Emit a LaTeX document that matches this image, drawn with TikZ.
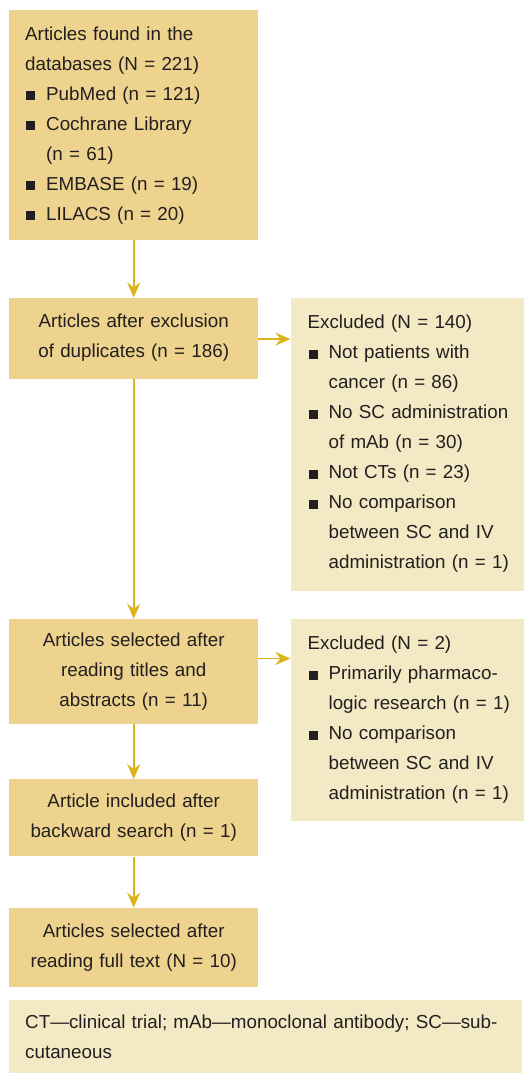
\documentclass[tikz,border=0pt]{standalone}
\usepackage{fontspec}
\setmainfont{Liberation Sans}
\usepackage{tikz}
\usetikzlibrary{positioning,arrows.meta,calc}
\definecolor{boxdark}{HTML}{EDD38D}
\definecolor{boxlight}{HTML}{F3E9C4}
\definecolor{arrowc}{HTML}{DDB31A}
\definecolor{inkc}{HTML}{231F20}
\newcommand{\sq}{\makebox[21pt][l]{\hspace{1pt}\rule{9pt}{9pt}}}
\newcommand{\hg}{\hspace*{21pt}}

\begin{document}
\begin{tikzpicture}[x=1pt,y=-1pt,
  font=\fontsize{18.8pt}{30pt}\selectfont, text=inkc,
  mainbox/.style={fill=boxdark,inner xsep=16pt,inner ysep=0pt,
              text width=217pt,align=center},
  exbox/.style={fill=boxlight,inner xsep=0pt,inner ysep=0pt,
              text width=233pt,align=left,anchor=north west,
              execute at begin node={\leftskip=17pt}},
  fl/.style={-{Stealth[length=15pt,width=13pt,inset=5pt]},arrowc,line width=1.7pt}]
\useasboundingbox (0,0) rectangle (523,1073);
\node[mainbox,align=left,minimum height=230pt,anchor=north west] (db) at (9,10)
  {Articles found in the\\databases (N = 221)\\
   \sq PubMed (n = 121)\\ \sq Cochrane Library\\ \hg(n = 61)\\
   \sq EMBASE (n = 19)\\ \sq LILACS (n = 20)};
\node[mainbox,minimum height=81pt,below=57pt of db] (dup)
  {Articles after exclusion\\of duplicates (n = 186)};
\node[mainbox,minimum height=105pt,below=240pt of dup] (sel)
  {Articles selected after\\reading titles and\\abstracts (n = 11)};
\node[mainbox,minimum height=77pt,below=55pt of sel] (inc)
  {Article included after\\backward search (n = 1)};
\node[mainbox,minimum height=79pt,below=51pt of inc] (fin)
  {Articles selected after\\reading full text (N = 10)};
\node[exbox,minimum height=293pt,right=32pt of dup.north east,anchor=north west] (ex1)
  {Excluded (N = 140)\\ \sq Not patients with\\ \hg cancer (n = 86)\\
   \sq No SC administration\\ \hg of mAb (n = 30)\\ \sq Not CTs (n = 23)\\
   \sq No comparison\\ \hg between SC and IV\\ \hg administration (n = 1)};
\node[exbox,minimum height=202pt,right=32pt of sel.north east,anchor=north west] (ex2)
  {Excluded (N = 2)\\ \sq Primarily pharmaco-\\ \hg logic research (n = 1)\\
   \sq No comparison\\ \hg between SC and IV\\ \hg administration (n = 1)};
\node[exbox,text width=513pt,minimum height=73pt,
      execute at begin node={\leftskip=16pt}] (note) at (9,1000)
  {CT---clinical trial; mAb---monoclonal antibody; SC---sub-\\cutaneous};
\draw[fl] (db) -- (dup); \draw[fl] (dup) -- (sel);
\draw[fl] (sel) -- (inc); \draw[fl] (inc) -- (fin);
\draw[fl] ([yshift=-1pt]dup.east) -- ([yshift=-1pt]dup.east -| ex1.west);
\draw[fl] ([yshift=13pt]sel.east) -- ([yshift=13pt]sel.east -| ex2.west);
\end{tikzpicture}
\end{document}
